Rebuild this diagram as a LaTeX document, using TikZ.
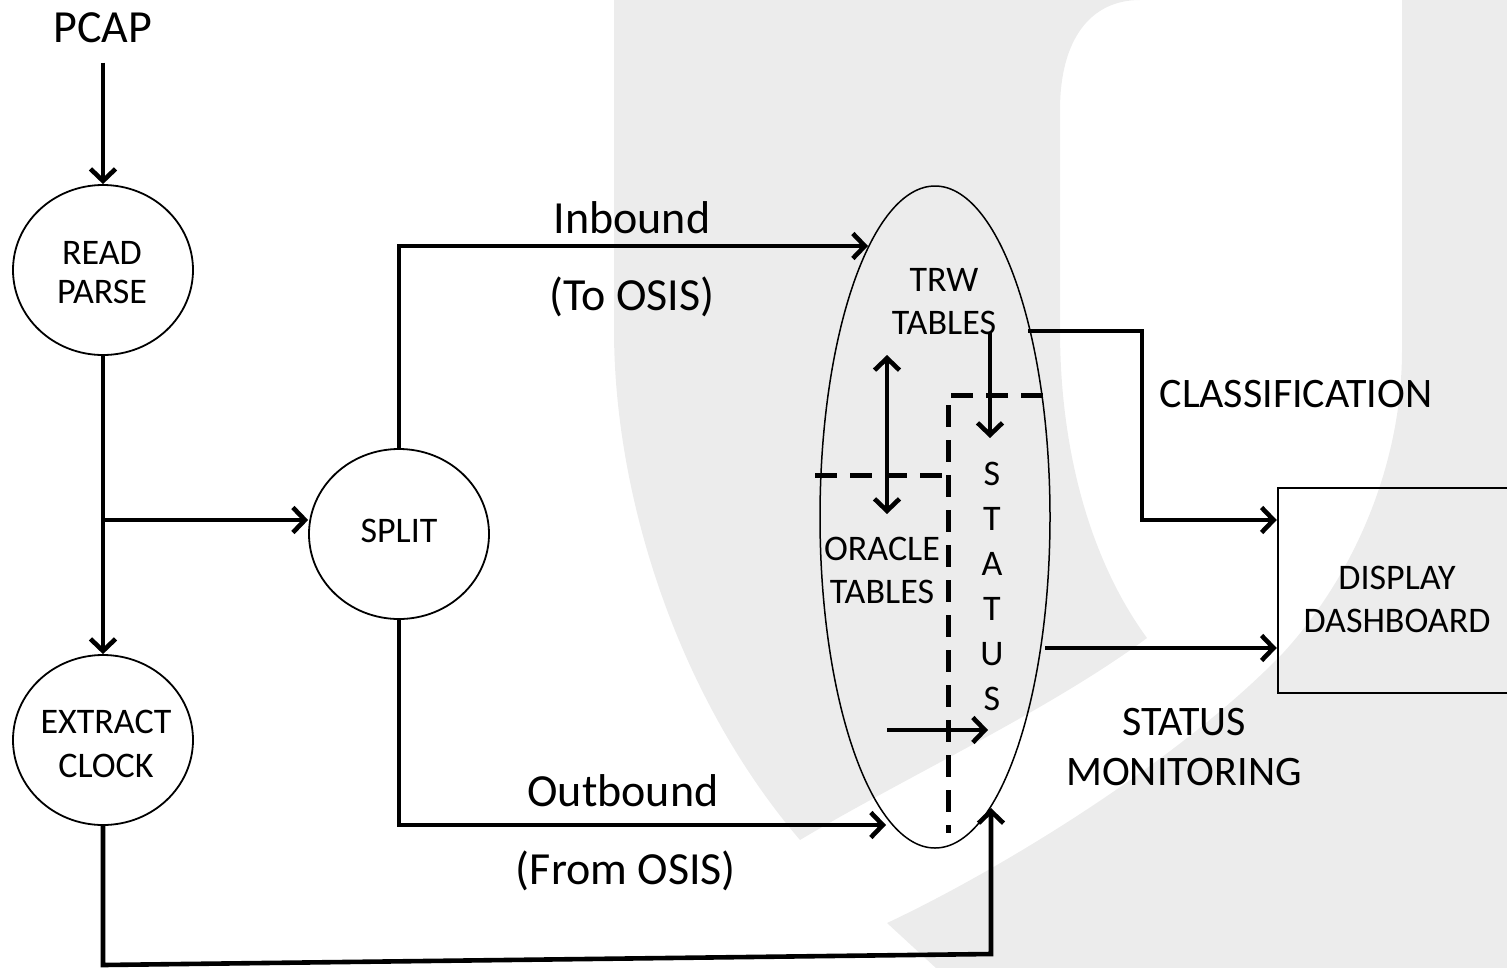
\documentclass[tikz,border=0pt]{standalone}
\usepackage{fontspec}
\setmainfont{Carlito}
\usetikzlibrary{shapes.geometric,arrows.meta}
\definecolor{wmgray}{RGB}{236,236,236}
\tikzset{
  tipbarb/.tip={Straight Barb[length=12pt,width=25pt]},
  conn/.style={line width=4.6pt,-tipbarb},
  dblconn/.style={line width=4.6pt,tipbarb-tipbarb},
  dsh/.style={line width=5pt,dash pattern=on 22pt off 13pt},
  bubble/.style={ellipse,draw,line width=1.8pt,minimum width=180pt,minimum height=170pt,
    inner sep=0pt,align=center,font=\fontsize{36}{39}\selectfont},
  txt/.style={inner sep=0pt,align=center,font=\fontsize{36}{43}\selectfont},
  biglbl/.style={inner sep=0pt,font=\fontsize{46}{55}\selectfont},
  midlbl/.style={inner sep=0pt,align=center,font=\fontsize{42}{50}\selectfont},
}
\begin{document}
\begin{tikzpicture}[x=1pt,y=-1pt]
\useasboundingbox (0,0) rectangle (1507,967);

% light grey watermark letter behind the diagram
\fill[wmgray] (614,0) -- (614,330) .. controls (614,500) and (680,700) .. (800,840)
  .. controls (900,780) and (1050,710) .. (1147,638)
  .. controls (1090,560) and (1060,450) .. (1060,330) -- (1060,110)
  .. controls (1060,40) and (1090,0) .. (1140,0) -- cycle;
\fill[wmgray] (1402,0) -- (1520,0) -- (1520,980) -- (949,980) -- (887,923)
  .. controls (1000,870) and (1180,760) .. (1283,653)
  .. controls (1350,580) and (1402,470) .. (1402,350) -- cycle;

% processing stages
\node[biglbl,anchor=base] (pcap) at (103,42) {PCAP};
\node[bubble] (rp) at (103,270) {};
\node[txt,font=\fontsize{36}{39}\selectfont] (rptxt) at (102,273) {READ\\PARSE};
\node[bubble] (ec) at (103,740) {};
\node[txt,font=\fontsize{36}{44}\selectfont] (ectxt) at (106,744) {EXTRACT\\CLOCK};
\node[bubble] (split) at (399,534) {};
\node[txt] (splittxt) at (399,531) {SPLIT};

% table store and dashboard
\node[draw,ellipse,line width=1.5pt,minimum width=230pt,minimum height=662pt,inner sep=0pt] (store) at (935,517) {};
\node[draw,rectangle,line width=2.5pt,minimum width=238pt,minimum height=205pt,inner sep=0pt] (disp) at (1397,590.5) {};
\node[txt] (disptxt) at (1397,599.5) {DISPLAY\\DASHBOARD};

\node[txt] (trw) at (944,301.5) {TRW\\TABLES};
\node[txt] (ora) at (882,570) {ORACLE\\TABLES};
\node[txt,font=\fontsize{36}{45}\selectfont] (status) at (992,586) {S\\T\\A\\T\\U\\S};

% flow labels
\node[biglbl,anchor=base] (inb) at (632,233) {Inbound};
\node[biglbl,anchor=base] (toosis) at (632,310) {(To OSIS)};
\node[biglbl,anchor=base] (outb) at (623,806) {Outbound};
\node[biglbl,anchor=base] (fromosis) at (626,884) {(From OSIS)};
\node[midlbl,anchor=base] (cls) at (1296,407) {CLASSIFICATION};
\node[midlbl] (stmon) at (1184,747.5) {STATUS\\MONITORING};

% connector end points
\coordinate (br) at (103,520);
\coordinate (inTip) at (868,246);
\coordinate (outTip) at (886,825);
\coordinate (ecDrop) at (103,965);
\coordinate (ecTurn) at (991,954);
\coordinate (clkTip) at (991,808);
\coordinate (trwOut) at (1028,331);
\coordinate (clsBend) at (1142,520);
\coordinate (stOut) at (1045,648);
\coordinate (syncTop) at (887,355);
\coordinate (syncBot) at (887,514);
\coordinate (trwDown) at (990,333);
\coordinate (trwDownTip) at (990,438);
\coordinate (oraIn) at (887,730);
\coordinate (oraInTip) at (988,730);

% main flow
\draw[conn] ([yshift=-20pt]pcap.south) -- (rp.north);
\draw[conn] (rp.south) -- (ec.north);
\draw[conn] (br) -- (split.west |- br);
\draw[conn] (split.north) |- (inTip);
\draw[conn] (split.south) |- (outTip);
\draw[conn] (ec.south) -- (ecDrop) -- (ecTurn) -- (clkTip);
\draw[conn] (trwOut) -| (clsBend) -- (disp.west |- clsBend);
\draw[conn] (stOut) -- (disp.west |- stOut);

% inside the store
\draw[dblconn] (syncTop) -- (syncBot);
\draw[conn] (trwDown) -- (trwDownTip);
\draw[conn] (oraIn) -- (oraInTip);
\draw[dsh] (1043,395) -- (948,395) -- (948,833);
\draw[dsh] (815,475) -- (948,475);
\end{tikzpicture}
\end{document}
